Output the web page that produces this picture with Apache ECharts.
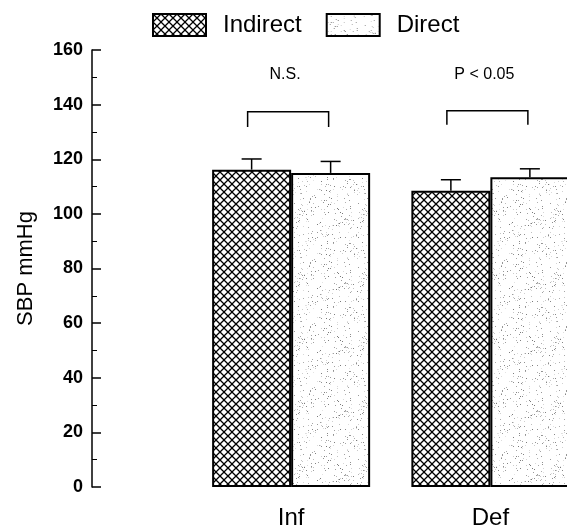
<!DOCTYPE html>
<html>
<head>
<meta charset="utf-8">
<script src="https://cdn.jsdelivr.net/npm/echarts@6/dist/echarts.min.js"></script>
<style>
  html, body { margin: 0; padding: 0; background: #fff; overflow: hidden; }
  /* the original plot is cut off at the right edge, so the canvas runs past the window */
  #chart { width: 590px; height: 530px; }
</style>
</head>
<body>
<div id="chart"></div>
<script>
const categories = ['Inf', 'Def'];
const indirectVals = [116.2, 108.5];
const indirectErr = [3.9, 4.0];
const directVals = [115.0, 113.4];
const directErr = [4.2, 3.1];
const yTicks = [0, 20, 40, 60, 80, 100, 120, 140, 160];
const sigLabels = ['N.S.', 'P < 0.05'];
const bracketTop = [137.4, 137.8];
const bracketLeg = [131.8, 132.6];
const sigLabelY = 151;

const BAR_W = 79;

// crosshatch fill for "Indirect"
function hatchPattern() {
  const c = document.createElement('canvas');
  c.width = 8; c.height = 8;
  const ctx = c.getContext('2d');
  ctx.fillStyle = '#fff';
  ctx.fillRect(0, 0, 8, 8);
  ctx.strokeStyle = '#000';
  ctx.lineWidth = 1.3;
  ctx.beginPath();
  ctx.moveTo(-1, -1); ctx.lineTo(9, 9);
  ctx.moveTo(-1, 9); ctx.lineTo(9, -1);
  ctx.stroke();
  return c;
}

// light stipple fill for "Direct" (seeded, so it is the same every run)
function stipplePattern() {
  const c = document.createElement('canvas');
  c.width = 64; c.height = 64;
  const ctx = c.getContext('2d');
  ctx.fillStyle = '#fff';
  ctx.fillRect(0, 0, 64, 64);
  let s = 12345;
  const rnd = () => { s = (s * 1103515245 + 12345) % 2147483648; return s / 2147483648; };
  for (let i = 0; i < 240; i++) {
    const g = Math.floor(120 + rnd() * 110);
    ctx.fillStyle = `rgb(${g},${g},${g})`;
    ctx.fillRect(Math.floor(rnd() * 64), Math.floor(rnd() * 64), 1, 1);
  }
  return c;
}

const hatch = { image: hatchPattern(), repeat: 'repeat' };
const stipple = { image: stipplePattern(), repeat: 'repeat' };

const font = 'Liberation Sans, Arial, sans-serif';

function errorBars(vals, errs, side) {
  return {
    type: 'custom',
    silent: true,
    z: 5,
    data: vals.map((v, i) => [i, v, v + errs[i]]),
    renderItem(params, api) {
      const top = api.coord([api.value(0), api.value(1)]);
      const end = api.coord([api.value(0), api.value(2)]);
      const x = top[0] + side * BAR_W / 2;
      const style = { stroke: '#000', lineWidth: 1.5 };
      return {
        type: 'group',
        children: [
          { type: 'line', shape: { x1: x, y1: top[1], x2: x, y2: end[1] }, style },
          { type: 'line', shape: { x1: x - 10, y1: end[1], x2: x + 10, y2: end[1] }, style }
        ]
      };
    }
  };
}

const chart = echarts.init(document.getElementById('chart'), null, { renderer: 'canvas' });

chart.setOption({
  animation: false,
  backgroundColor: '#fff',
  textStyle: { fontFamily: font },
  legend: {
    left: 147,
    top: 8,
    itemWidth: 53,
    itemHeight: 22,
    itemGap: 24,
    icon: 'rect',
    textStyle: { fontSize: 24, color: '#000', fontFamily: font, padding: [0, 0, 0, 12] },
    data: ['Indirect', 'Direct']
  },
  grid: { left: 191.5, right: 0, top: 50, bottom: 42 },
  xAxis: {
    type: 'category',
    data: categories,
    axisLine: { show: false },
    axisTick: { show: false },
    axisLabel: { color: '#000', fontSize: 24, margin: 19, fontFamily: font }
  },
  yAxis: {
    type: 'value',
    min: 0,
    max: 160,
    interval: 20,
    offset: 99.5,
    name: 'SBP mmHg',
    nameLocation: 'middle',
    nameGap: 55,
    nameTextStyle: { color: '#000', fontSize: 22, fontFamily: font },
    axisLine: { show: true, lineStyle: { color: '#000', width: 1.5 } },
    axisTick: { show: true, inside: true, length: 9, lineStyle: { color: '#000', width: 1.5 } },
    minorTick: { show: true, splitNumber: 2, length: 5, lineStyle: { color: '#000', width: 1 } },
    splitLine: { show: false },
    axisLabel: {
      color: '#000', fontSize: 18, fontWeight: 'bold', margin: 9, fontFamily: font,
      formatter: v => (yTicks.includes(v) ? String(v) : '')
    }
  },
  series: [
    {
      name: 'Indirect',
      type: 'bar',
      barWidth: BAR_W,
      barGap: 0,
      data: indirectVals,
      itemStyle: { color: hatch, borderColor: '#000', borderWidth: 2 }
    },
    {
      name: 'Direct',
      type: 'bar',
      barWidth: BAR_W,
      barGap: 0,
      data: directVals,
      itemStyle: { color: stipple, borderColor: '#000', borderWidth: 2 }
    },
    errorBars(indirectVals, indirectErr, -1),
    errorBars(directVals, directErr, 1),
    {
      type: 'custom',
      silent: true,
      z: 5,
      data: categories.map((c, i) => [i, bracketTop[i], bracketLeg[i], sigLabelY]),
      renderItem(params, api) {
        const i = api.value(0);
        const t = api.coord([i, api.value(1)]);
        const l = api.coord([i, api.value(2)]);
        const ly = api.coord([i, api.value(3)]);
        const x1 = t[0] - BAR_W / 2 - 4;
        const x2 = t[0] + BAR_W / 2 - 2;
        return {
          type: 'group',
          children: [
            {
              type: 'polyline',
              shape: { points: [[x1, l[1]], [x1, t[1]], [x2, t[1]], [x2, l[1]]] },
              style: { stroke: '#000', lineWidth: 1.5, fill: null }
            },
            {
              type: 'text',
              x: t[0] - 6,
              y: ly[1],
              style: {
                text: sigLabels[i], fill: '#000', fontSize: 16, fontFamily: font,
                align: 'center', verticalAlign: 'middle'
              }
            }
          ]
        };
      }
    }
  ]
});
</script>
</body>
</html>
